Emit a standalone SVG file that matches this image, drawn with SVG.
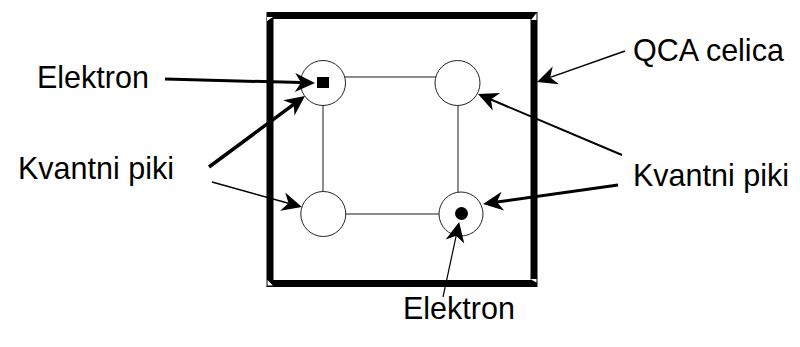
<svg xmlns="http://www.w3.org/2000/svg" width="800" height="347" viewBox="0 0 800 347">
<style>
.lbl{font-family:"Liberation Sans",Arial,sans-serif;font-size:30.5px;fill:#000}
.dot{fill:#fff;stroke:#222;stroke-width:1}
.link{stroke:#666;stroke-width:1.5;fill:none}
.arr{stroke:#000;fill:none;marker-end:url(#ah)}
.notch{fill:#fff}
</style>
<defs>
<marker id="ah" markerUnits="userSpaceOnUse" markerWidth="1" markerHeight="1" refX="0" refY="0" orient="auto" overflow="visible">
<path d="M14,0 L-6,-9.5 L0,0 L-6,9.5 Z" fill="#000"/>
</marker>
</defs>
<rect width="800" height="347" fill="#fff"/>
<g id="cell">
<rect x="270" y="15.5" width="264" height="268" fill="none" stroke="#000" stroke-width="7"/>
<polygon class="notch" points="267,17 273,17 267,21"/>
<polygon class="notch" points="536.5,13 536.5,20 531,20"/>
<polygon class="notch" points="267.5,280 273,285.5 267.5,285.5"/>
<polygon class="notch" points="530,279 536.5,279 536.5,282.5"/>
</g>
<g id="links">
<line class="link" x1="323" y1="77" x2="458" y2="77"/>
<line class="link" x1="323" y1="214" x2="461" y2="214"/>
<line class="link" x1="323" y1="83" x2="323" y2="214"/>
<line class="link" x1="458" y1="83" x2="458" y2="214"/>
</g>
<g id="dot-tl"><circle class="dot" cx="323" cy="83" r="22.5"/></g>
<g id="dot-tr"><circle class="dot" cx="457.5" cy="83" r="22.5"/></g>
<g id="dot-bl"><circle class="dot" cx="323.3" cy="214" r="22.5"/></g>
<g id="dot-br"><circle class="dot" cx="461" cy="214" r="22"/></g>
<g id="electron-tl"><rect x="317" y="77" width="12" height="11" fill="#000"/></g>
<g id="electron-br"><circle cx="461.5" cy="213.5" r="6.5" fill="#000"/></g>
<g id="connectors">
<line class="arr" x1="165" y1="79" x2="301" y2="82.6" stroke-width="3"/>
<line class="arr" x1="209" y1="167" x2="293.7" y2="104.3" stroke-width="3.5"/>
<line class="arr" x1="212" y1="182" x2="288.5" y2="203.3" stroke-width="1.5"/>
<line class="arr" x1="625" y1="51" x2="550.2" y2="77.4" stroke-width="1.5"/>
<line class="arr" x1="622" y1="155" x2="490.9" y2="99.5" stroke-width="2"/>
<line class="arr" x1="618" y1="185" x2="496.9" y2="202" stroke-width="3"/>
<line class="arr" x1="443" y1="297" x2="456.2" y2="235.7" stroke-width="1.2"/>
</g>
<g id="labels">
<text class="lbl" x="37" y="88">Elektron</text>
<text class="lbl" x="18" y="179">Kvantni piki</text>
<text class="lbl" x="633" y="61">QCA celica</text>
<text class="lbl" x="633" y="186">Kvantni piki</text>
<text class="lbl" x="403" y="319">Elektron</text>
</g>
</svg>
